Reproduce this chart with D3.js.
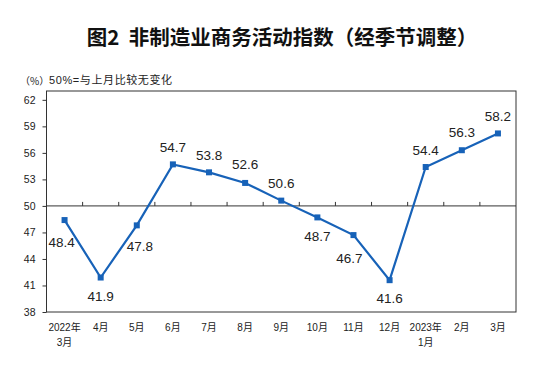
<!DOCTYPE html>
<html><head><meta charset="utf-8">
<script src="https://cdn.jsdelivr.net/npm/d3@7"></script>
<style>
body{margin:0;background:#fff;}
svg{display:block;}
text{font-family:"Liberation Sans","Noto Sans CJK SC",sans-serif;fill:#222;}
</style></head>
<body>
<svg id="c" width="549" height="388"></svg>
<script>
const categories = ["2022年|3月","4月","5月","6月","7月","8月","9月","10月","11月","12月","2023年|1月","2月","3月"];
const values = [48.4,41.9,47.8,54.7,53.8,52.6,50.6,48.7,46.7,41.6,54.4,56.3,58.2];
const yTicks = [38,41,44,47,50,53,56,59,62];
const title = "图2 非制造业商务活动指数（经季节调整）";
const unitLabel = "（%）";
const note = "50%=与上月比较无变化";

// label placement [dx, dy] per point (style)
const labelOffsets = [[-3,22],[0,19],[3,21],[0,-17],[0,-17],[0,-18],[0,-17.5],[0,19],[-4,23],[0,18],[0,-17],[0,-18],[0,-17]];

const svg = d3.select("#c");
const L=46.5, R=516, T=91, B=312;
const x = d3.scaleBand().domain(categories).range([L,R]).padding(0);
const y = d3.scaleLinear().domain([38,63]).range([B,T]);
const color = "#1762b8";

svg.append("text").attr("x",282).attr("y",36).attr("text-anchor","middle")
  .attr("dominant-baseline","central")
  .style("white-space","pre")
  .style("font-family",'"Noto Sans CJK SC",sans-serif').style("font-weight","700")
  .style("font-size","20.5px").style("fill","#111").text(title.replace(" ","  "));

svg.append("text").attr("x",20).attr("y",80).attr("dominant-baseline","central")
  .style("font-size","10px").style("font-family",'"Noto Sans CJK SC",sans-serif').text(unitLabel);
svg.append("text").attr("x",49).attr("y",80).attr("dominant-baseline","central")
  .style("font-size","11px").style("letter-spacing","0.6px").text(note);

// frame
svg.append("rect").attr("x",L).attr("y",T).attr("width",R-L).attr("height",B-T)
  .attr("fill","none").attr("stroke","#333").attr("stroke-width",1);

// y axis
const ya = svg.append("g").attr("transform",`translate(${L},0)`)
  .call(d3.axisLeft(y).tickValues(yTicks).tickSize(4).tickFormat(d3.format("d")));
ya.select(".domain").remove();
ya.selectAll("line").attr("stroke","#333");
ya.selectAll("text").attr("x",-11).style("font-size","10.5px").style("font-family",'"Liberation Sans",sans-serif').attr("fill","#222");

// horizontal axis at 50
svg.append("line").attr("x1",L).attr("x2",R).attr("y1",y(50)).attr("y2",y(50))
  .attr("stroke","#333").attr("stroke-width",1);
svg.append("g").selectAll("line").data(categories.slice(1)).join("line")
  .attr("x1",d=>x(d)).attr("x2",d=>x(d)).attr("y1",y(50)).attr("y2",y(50)-4)
  .attr("stroke","#333");

// category labels
const cl = svg.append("g").selectAll("text").data(categories).join("text")
  .attr("x",d=>x(d)+x.bandwidth()/2).attr("y",327).attr("text-anchor","middle")
  .style("font-size","10px");
cl.each(function(d){
  const parts=d.split("|");
  const t=d3.select(this);
  parts.forEach((p,i)=>t.append("tspan").attr("x",x(d)+x.bandwidth()/2).attr("dy",i===0?"0.35em":"15px").text(p));
});

// line
const cx = (d,i)=>x(categories[i])+x.bandwidth()/2;
svg.append("path").datum(values)
  .attr("d",d3.line().x(cx).y(d=>y(d)))
  .attr("fill","none").attr("stroke",color).attr("stroke-width",2.2);
svg.append("g").selectAll("rect").data(values).join("rect")
  .attr("x",(d,i)=>cx(d,i)-3).attr("y",d=>y(d)-3).attr("width",6).attr("height",6)
  .attr("fill",color);

// value labels
svg.append("g").selectAll("text").data(values).join("text")
  .attr("x",(d,i)=>cx(d,i)+labelOffsets[i][0]).attr("y",(d,i)=>y(d)+labelOffsets[i][1])
  .attr("text-anchor","middle").attr("dominant-baseline","central")
  .style("font-size","13.5px").text(d=>d3.format(".1f")(d));
</script>
</body></html>
